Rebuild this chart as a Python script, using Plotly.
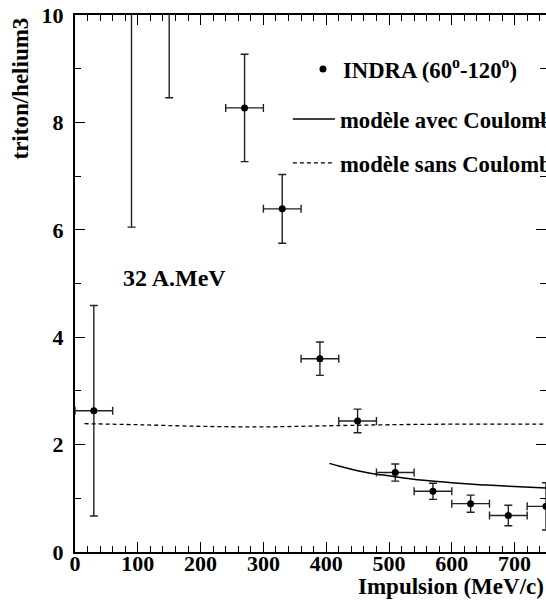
import plotly.graph_objects as go

# INDRA data points (60-120 deg), 32 A.MeV
p_mev = [30, 90, 150, 270, 330, 390, 450, 510, 570, 630, 690, 750]
ratio = [2.63, 12.5, 11.5, 8.27, 6.39, 3.60, 2.44, 1.48, 1.13, 0.90, 0.68, 0.85]
ratio_err = [1.96, 6.45, 3.04, 1.00, 0.64, 0.31, 0.22, 0.16, 0.15, 0.16, 0.19, 0.44]
p_err = [30] * 12

# model with Coulomb
avec_x = [405, 420, 440, 460, 480, 500, 530, 560, 600, 650, 700, 750]
avec_y = [1.65, 1.60, 1.54, 1.49, 1.45, 1.42, 1.37, 1.33, 1.29, 1.25, 1.22, 1.19]

# model without Coulomb
sans_x = [15, 100, 200, 300, 400, 500, 600, 750]
sans_y = [2.39, 2.37, 2.34, 2.33, 2.35, 2.37, 2.38, 2.38]

FONT = "Liberation Serif"

fig = go.Figure()

fig.add_trace(go.Scatter(
    x=p_mev, y=ratio, mode='markers',
    marker=dict(color='black', size=7),
    error_y=dict(type='data', array=ratio_err, color='#222', thickness=1.4, width=4),
    error_x=dict(type='data', array=p_err, color='#222', thickness=1.4, width=4),
    name='INDRA (60<sup>o</sup>-120<sup>o</sup>)',
    legend='legend', showlegend=True,
))
fig.add_trace(go.Scatter(
    x=avec_x, y=avec_y, mode='lines', line=dict(color='black', width=1.5, shape='spline'),
    name='modèle avec Coulomb', legend='legend2', showlegend=True,
))
fig.add_trace(go.Scatter(
    x=sans_x, y=sans_y, mode='lines', line=dict(color='black', width=1.3, dash='4px,3px', shape='spline'),
    name='modèle sans Coulomb', legend='legend3', showlegend=True,
))

leg = dict(xanchor='left', yanchor='middle', bgcolor='rgba(0,0,0,0)', visible=True,
           font=dict(family=FONT, size=22.7, color='black', weight='bold'))

axis_common = dict(
    showline=True, linecolor='black', linewidth=2, mirror='ticks',
    ticks='inside', ticklen=10, tickwidth=1.3, tickcolor='black',
    showgrid=False, zeroline=False,
    tickfont=dict(family=FONT, size=22, color='black', weight='bold'),
)

fig.update_layout(
    width=546, height=603,
    showlegend=True,
    margin=dict(l=75, r=0, t=15, b=51, autoexpand=False),
    plot_bgcolor='white', paper_bgcolor='white',
    xaxis=dict(range=[0, 750], dtick=100, tick0=0, ticklabelstandoff=-9,
               minor=dict(dtick=20, ticks='inside', ticklen=6, tickcolor='black', tickwidth=1.2),
               **axis_common),
    yaxis=dict(range=[0, 10], dtick=2, tick0=0, ticklabelstandoff=5,
               minor=dict(dtick=1, ticks='inside', ticklen=6, tickcolor='black', tickwidth=1.2),
               **axis_common),
    legend=dict(x=0.484, y=0.899, **leg),
    legend2=dict(x=0.452, y=0.806, itemwidth=42, **leg),
    legend3=dict(x=0.452, y=0.724, itemwidth=42, **leg),
    annotations=[
        dict(text='<b>32 A.MeV</b>', x=74, y=5.1, xref='x', yref='y', xanchor='left', yanchor='middle',
             showarrow=False, font=dict(family=FONT, size=24, color='black')),
        dict(text='<b>triton/helium3</b>', x=0, y=1, xref='paper', yref='paper', xshift=-70,
             xanchor='left', yanchor='top', textangle=-90, yshift=-1,
             showarrow=False, font=dict(family=FONT, size=23, color='black')),
        dict(text='<b>Impulsion (MeV/c)</b>', x=1, y=0, xref='paper', yref='paper', xanchor='right',
             yanchor='top', yshift=-20, showarrow=False, font=dict(family=FONT, size=23, color='black')),
    ],
)

fig.write_html("out.html", config={'displayModeBar': False},
               post_script="document.body.style.margin='0';")
